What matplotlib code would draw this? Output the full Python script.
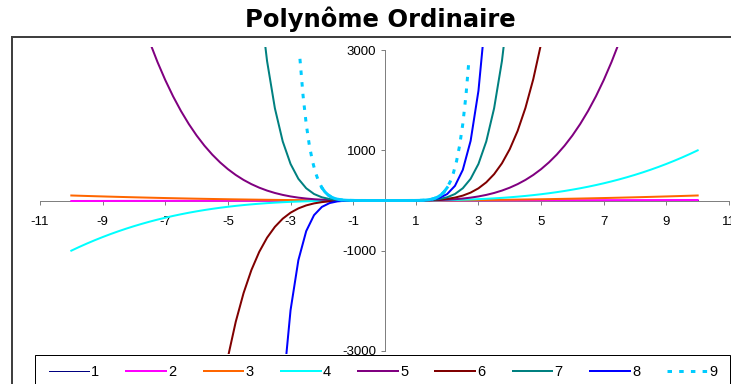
import matplotlib
matplotlib.use("Agg")
import matplotlib.pyplot as plt
import numpy as np
from matplotlib.lines import Line2D
from matplotlib.patches import Rectangle

# ---------------- data ----------------
x_values = [-10, -9.75, -9.5, -9.25, -9, -8.75, -8.5, -8.25, -8, -7.75,
            -7.5, -7.25, -7, -6.75, -6.5, -6.25, -6, -5.75, -5.5, -5.25,
            -5, -4.75, -4.5, -4.25, -4, -3.75, -3.5, -3.25, -3, -2.75,
            -2.5, -2.25, -2, -1.75, -1.5, -1.25, -1, -0.75, -0.5, -0.25,
            0,
            0.25, 0.5, 0.75, 1, 1.25, 1.5, 1.75, 2, 2.25, 2.5,
            2.75, 3, 3.25, 3.5, 3.75, 4, 4.25, 4.5, 4.75, 5,
            5.25, 5.5, 5.75, 6, 6.25, 6.5, 6.75, 7, 7.25, 7.5,
            7.75, 8, 8.25, 8.5, 8.75, 9, 9.25, 9.5, 9.75, 10]

series_1 = [1] * 81

series_2 = [-10, -9.75, -9.5, -9.25, -9, -8.75, -8.5, -8.25, -8, -7.75,
            -7.5, -7.25, -7, -6.75, -6.5, -6.25, -6, -5.75, -5.5, -5.25,
            -5, -4.75, -4.5, -4.25, -4, -3.75, -3.5, -3.25, -3, -2.75,
            -2.5, -2.25, -2, -1.75, -1.5, -1.25, -1, -0.75, -0.5, -0.25,
            0,
            0.25, 0.5, 0.75, 1, 1.25, 1.5, 1.75, 2, 2.25, 2.5,
            2.75, 3, 3.25, 3.5, 3.75, 4, 4.25, 4.5, 4.75, 5,
            5.25, 5.5, 5.75, 6, 6.25, 6.5, 6.75, 7, 7.25, 7.5,
            7.75, 8, 8.25, 8.5, 8.75, 9, 9.25, 9.5, 9.75, 10]

series_3 = [100, 95.1, 90.3, 85.6, 81, 76.6, 72.3, 68.1, 64, 60.1,
            56.3, 52.6, 49, 45.6, 42.3, 39.1, 36, 33.1, 30.3, 27.6,
            25, 22.6, 20.3, 18.1, 16, 14.1, 12.3, 10.6, 9, 7.6,
            6.3, 5.1, 4, 3.1, 2.3, 1.6, 1, 0.6, 0.3, 0.1,
            0,
            0.1, 0.3, 0.6, 1, 1.6, 2.3, 3.1, 4, 5.1, 6.3,
            7.6, 9, 10.6, 12.3, 14.1, 16, 18.1, 20.3, 22.6, 25,
            27.6, 30.3, 33.1, 36, 39.1, 42.3, 45.6, 49, 52.6, 56.3,
            60.1, 64, 68.1, 72.3, 76.6, 81, 85.6, 90.3, 95.1, 100]

series_4 = [-1000, -926.9, -857.4, -791.5, -729, -669.9, -614.1, -561.5, -512, -465.5,
            -421.9, -381.1, -343, -307.5, -274.6, -244.1, -216, -190.1, -166.4, -144.7,
            -125, -107.2, -91.1, -76.8, -64, -52.7, -42.9, -34.3, -27, -20.8,
            -15.6, -11.4, -8, -5.4, -3.4, -2, -1, -0.4, -0.1, 0,
            0,
            0, 0.1, 0.4, 1, 2, 3.4, 5.4, 8, 11.4, 15.6,
            20.8, 27, 34.3, 42.9, 52.7, 64, 76.8, 91.1, 107.2, 125,
            144.7, 166.4, 190.1, 216, 244.1, 274.6, 307.5, 343, 381.1, 421.9,
            465.5, 512, 561.5, 614.1, 669.9, 729, 791.5, 857.4, 926.9, 1000]

series_5 = ([None] * 10 +
            [3164.1, 2762.8, 2401, 2075.9, 1785.1, 1525.9, 1296, 1093.1, 915.1, 759.7,
             625, 509.1, 410.1, 326.3, 256, 197.8, 150.1, 111.6, 81, 57.2,
             39.1, 25.6, 16, 9.4, 5.1, 2.4, 1, 0.3, 0.1, 0,
             0,
             0, 0.1, 0.3, 1, 2.4, 5.1, 9.4, 16, 25.6, 39.1,
             57.2, 81, 111.6, 150.1, 197.8, 256, 326.3, 410.1, 509.1, 625,
             759.7, 915.1, 1093.1, 1296, 1525.9, 1785.1, 2075.9, 2401, 2762.8, 3164.1] +
            [None] * 10)

series_6 = ([None] * 20 +
            [-3125, -2418.1, -1845.3, -1386.6, -1024, -741.6, -525.2, -362.6, -243, -157.3,
             -97.7, -57.7, -32, -16.4, -7.6, -3.1, -1, -0.2, 0, 0,
             0,
             0, 0, 0.2, 1, 3.1, 7.6, 16.4, 32, 57.7, 97.7,
             157.3, 243, 362.6, 525.2, 741.6, 1024, 1386.6, 1845.3, 2418.1, 3125] +
            [None] * 20)

series_7 = ([None] * 24 +
            [4096, 2780.9, 1838.3, 1178.4, 729, 432.5, 244.1, 129.7, 64, 28.7,
             11.4, 3.8, 1, 0.2, 0, 0,
             0,
             0, 0, 0.2, 1, 3.8, 11.4, 28.7, 64, 129.7, 244.1,
             432.5, 729, 1178.4, 1838.3, 2780.9, 4096] +
            [None] * 24)

series_8 = ([None] * 27 +
            [-3829.8, -2187, -1189.4, -610.4, -291.9, -128, -50.3, -17.1, -4.8, -1,
             -0.1, 0, 0,
             0,
             0, 0, 0.1, 1, 4.8, 17.1, 50.3, 128, 291.9, 610.4,
             1189.4, 2187, 3829.8] +
            [None] * 27)

x_series_9 = [-2.7, -2.6, -2.5, -2.4, -2.3, -2.2, -2.1, -2.0, -1.9, -1.8,
              -1.7, -1.6, -1.5, -1.4, -1.3, -1.2, -1.1, -1.0, -0.9, -0.8,
              -0.7, -0.6, -0.5, -0.4, -0.3, -0.2, -0.1,
              0,
              0.1, 0.2, 0.3, 0.4, 0.5, 0.6, 0.7, 0.8, 0.9, 1.0,
              1.1, 1.2, 1.3, 1.4, 1.5, 1.6, 1.7, 1.8, 1.9, 2.0,
              2.1, 2.2, 2.3, 2.4, 2.5, 2.6, 2.7]
series_9 = [2824.3, 2088.3, 1525.9, 1100.8, 783.1, 548.8, 378.2, 256, 169.8, 110.2,
            69.8, 43, 25.6, 14.8, 8.2, 4.3, 2.1, 1, 0.4, 0.2,
            0.1, 0, 0, 0, 0, 0, 0,
            0,
            0, 0, 0, 0, 0, 0, 0.1, 0.2, 0.4, 1,
            2.1, 4.3, 8.2, 14.8, 25.6, 43, 69.8, 110.2, 169.8, 256,
            378.2, 548.8, 783.1, 1100.8, 1525.9, 2088.3, 2824.3]

labels = ["1", "2", "3", "4", "5", "6", "7", "8", "9"]
x_ticks = [-11, -9, -7, -5, -3, -1, 1, 3, 5, 7, 9, 11]
y_ticks = [-3000, -1000, 1000, 3000]

# ---------------- style ----------------
colors = ["#000080", "#FF00FF", "#FF6600", "#00FFFF", "#800080",
          "#800000", "#008080", "#0000FF", "#00CCFF"]
PX = 72 / 100.0  # points per pixel at dpi 100
widths = [1 * PX, 2 * PX, 2 * PX, 2 * PX, 2 * PX, 2 * PX, 2 * PX, 2 * PX, 3 * PX]

plt.rcParams["font.family"] = ["Liberation Sans", "DejaVu Sans"]

W, H = 731, 384
fig = plt.figure(figsize=(W / 100, H / 100), dpi=100)


def fx(px):
    return px / W


def fy(py):
    return 1 - py / H


ax = fig.add_axes([fx(40), fy(354), fx(729) - fx(40), fy(47) - fy(354)])
ax.set_xlim(-11, 11)
ax.set_ylim(-3060, 3060)
ax.patch.set_alpha(0)

xs = np.array(x_values, dtype=float)
all_series = [series_1, series_2, series_3, series_4, series_5,
              series_6, series_7, series_8]
handles = []
for i, s in enumerate(all_series):
    ys = np.array([np.nan if v is None else v for v in s], dtype=float)
    ln, = ax.plot(xs, ys, color=colors[i], lw=widths[i], zorder=3,
                  solid_joinstyle="round")
    handles.append(ln)

x9 = np.array(x_series_9, dtype=float)
y9 = np.array(series_9, dtype=float)
ln9, = ax.plot(x9, y9, color=colors[8], lw=widths[8], zorder=3,
               linestyle=(0, (1.5, 2.4)))
handles.append(ln9)
# short segments near the axis render as a continuous line
ax.plot(x9, np.where(np.abs(x9) <= 2.05, y9, np.nan), color=colors[8],
        lw=widths[8], zorder=3)

for s in ["top", "right"]:
    ax.spines[s].set_visible(False)
ax.spines["left"].set_position(("data", 0))
ax.spines["bottom"].set_position(("data", 0))
ax.spines["left"].set_bounds(-3000, 3000)
ax.spines["bottom"].set_bounds(-11, 11)
for s in ["left", "bottom"]:
    ax.spines[s].set_color("#808080")
    ax.spines[s].set_linewidth(1 * PX)
    ax.spines[s].set_zorder(2)

ax.set_xticks(x_ticks)
ax.set_xticklabels([str(t) for t in x_ticks])
ax.set_yticks(y_ticks)
ax.set_yticklabels([str(t) for t in y_ticks])
ax.tick_params(axis="x", direction="out", length=4 * PX, width=1 * PX,
               color="#808080", labelsize=9.5, pad=8.5)
ax.tick_params(axis="y", direction="out", length=4 * PX, width=1 * PX,
               color="#808080", labelsize=9.5, pad=3)

# chart frame
fig.add_artist(Line2D([fx(12), fx(12)], [fy(37), -0.05], color="#404040",
                      lw=2 * PX, transform=fig.transFigure))
fig.add_artist(Line2D([fx(12), 1.05], [fy(37), fy(37)], color="#404040",
                      lw=2 * PX, transform=fig.transFigure))

fig.text(fx(380), fy(19), "Polynôme Ordinaire", ha="center", va="center",
         fontsize=17.5, fontweight="bold", family=["DejaVu Sans"])

# legend box
box = Rectangle((fx(35), fy(392)), fx(730) - fx(35), fy(355) - fy(392),
                transform=fig.transFigure, facecolor="white",
                edgecolor="black", lw=1 * PX, zorder=5)
fig.add_artist(box)
leg = fig.legend(handles, labels, loc="center left",
                 bbox_to_anchor=(fx(49), fy(372)), ncol=9, fontsize=10.5,
                 frameon=False, borderpad=0, borderaxespad=0,
                 handlelength=2.74, handletextpad=0.15, columnspacing=1.85)
leg.set_zorder(6)

fig.savefig("out.png", dpi=100)
